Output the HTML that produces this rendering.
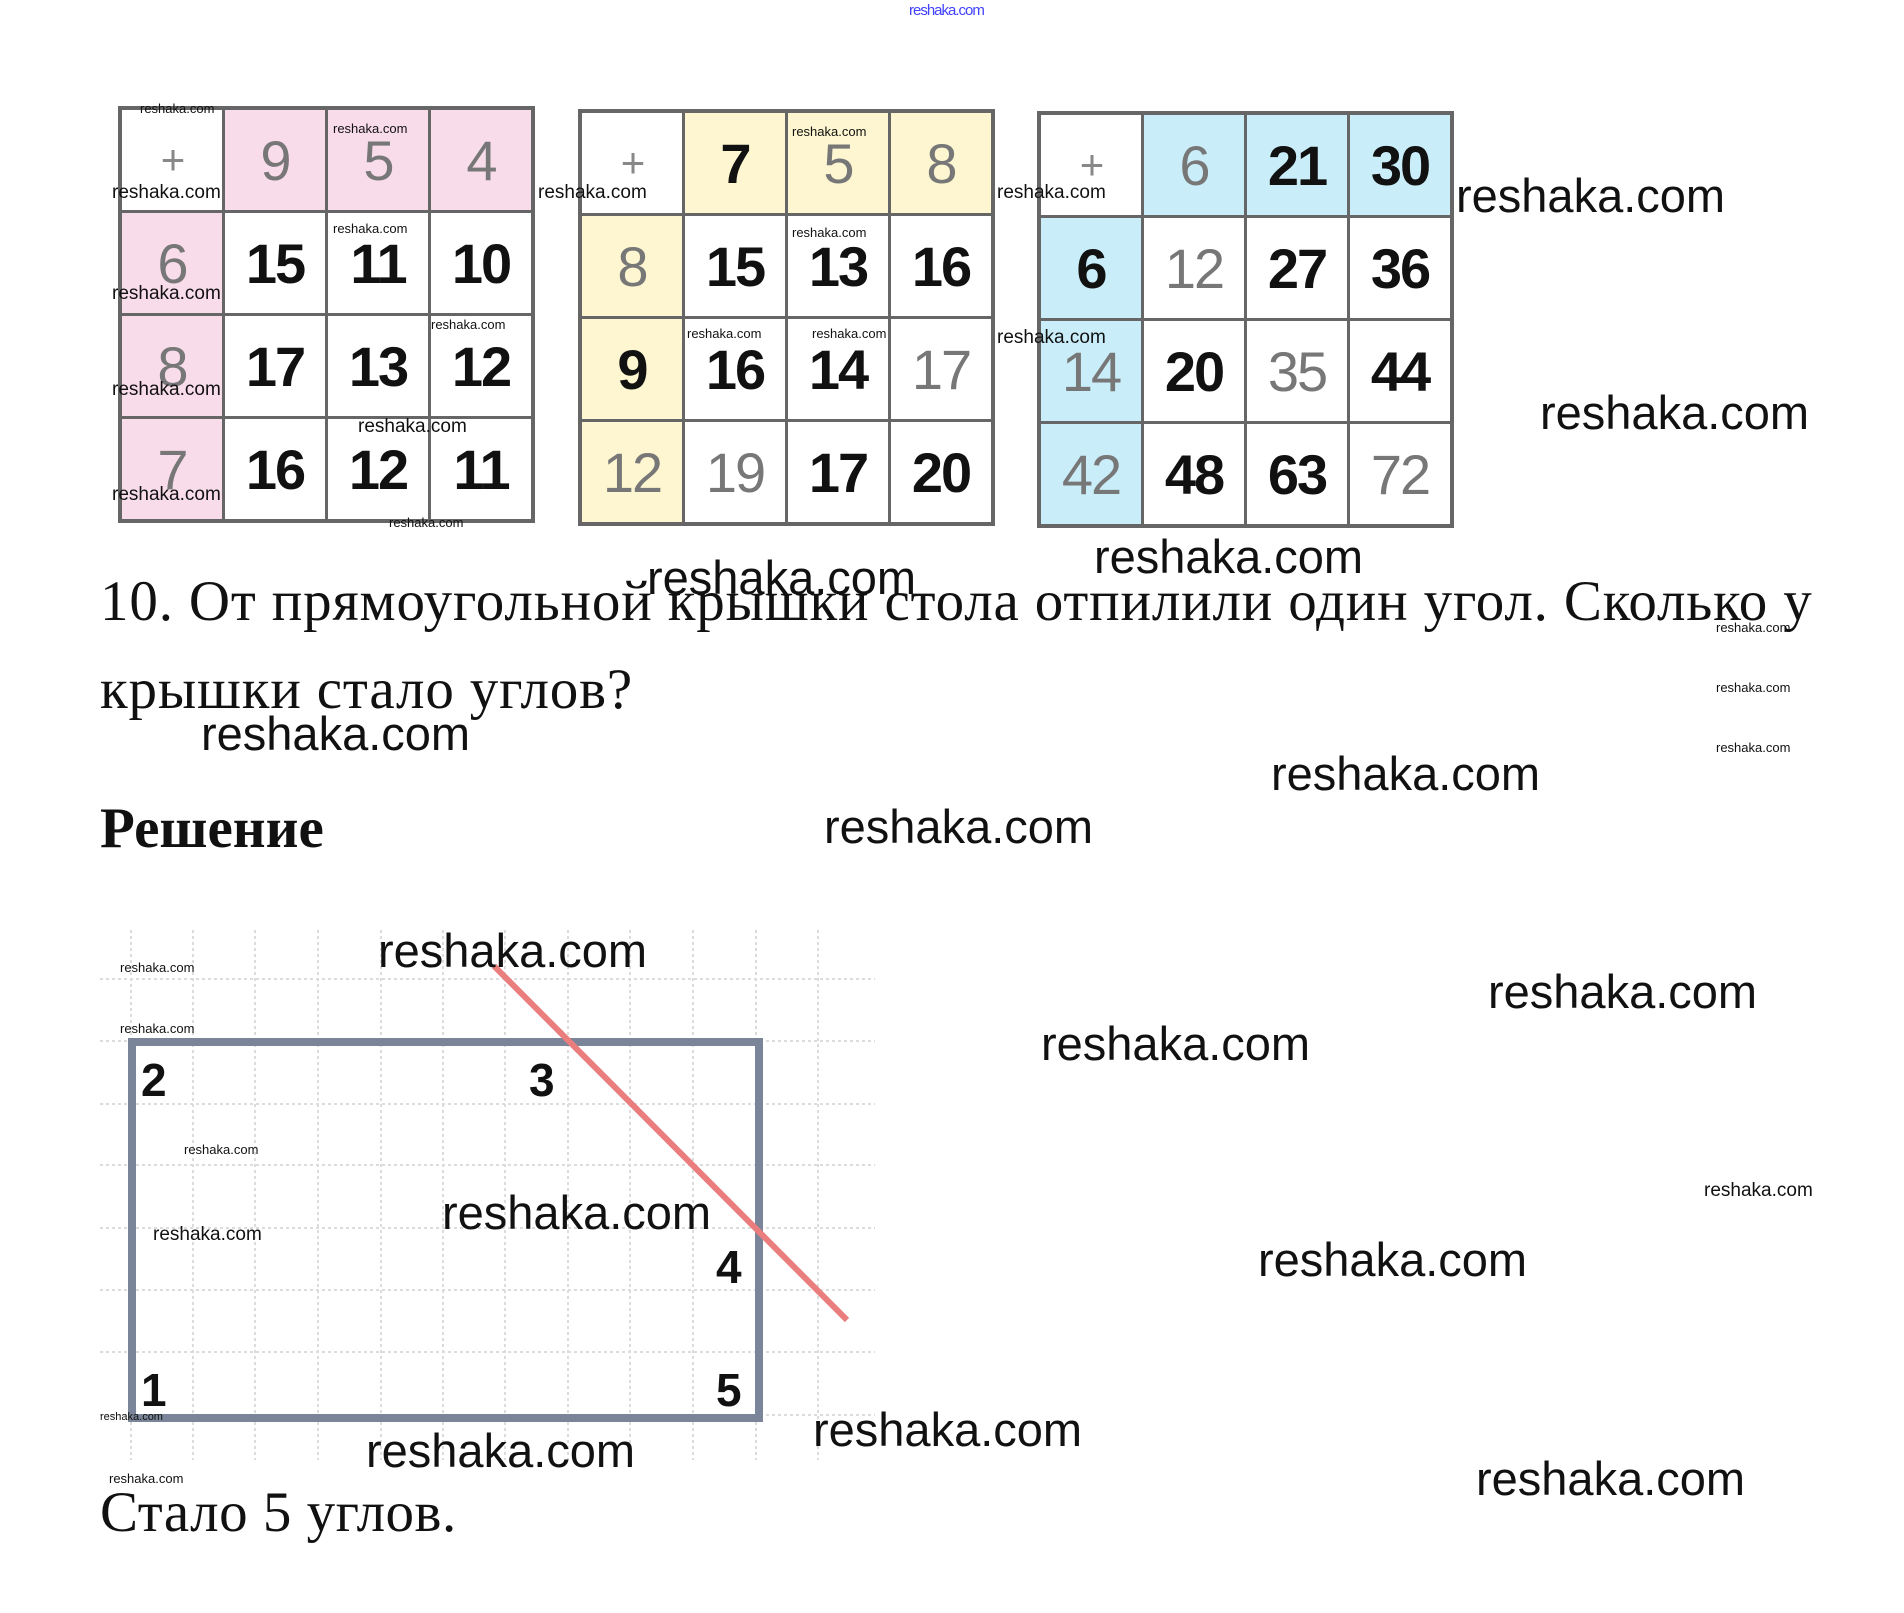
<!DOCTYPE html>
<html><head><meta charset="utf-8"><style>
body{margin:0;width:1904px;height:1613px;background:#fff;position:relative;overflow:hidden;font-family:"Liberation Sans",sans-serif}
.a{position:absolute;white-space:nowrap}
.tb{position:absolute;border:4px solid #666;display:grid;grid-template-columns:repeat(4,100px);grid-template-rows:repeat(4,100px);background:#666;gap:3px}
.tb div{background:#fff;display:flex;align-items:center;justify-content:center;font-weight:bold;font-size:56px;color:#111;letter-spacing:-2px}
.tb .g{color:#777;font-weight:normal}
.tb .p{color:#888;font-weight:normal;font-size:42px}
.w{position:absolute;white-space:nowrap;color:#111;line-height:1}
.L{font-size:47px}.M{font-size:19px}.S{font-size:13px}
.serif{font-family:"Liberation Serif","Noto Serif CJK SC",serif;color:#111}
</style></head><body>
<div class="a" style="left:909px;top:2px;font-size:15px;color:#4040ff;letter-spacing:-1px">reshaka.com</div>

<div class="tb" style="left:118px;top:106px">
<div class="p">+</div><div class="g" style="background:#f9dcea">9</div><div class="g" style="background:#f9dcea">5</div><div class="g" style="background:#f9dcea">4</div>
<div class="g" style="background:#f9dcea">6</div><div>15</div><div>11</div><div>10</div>
<div class="g" style="background:#f9dcea">8</div><div>17</div><div>13</div><div>12</div>
<div class="g" style="background:#f9dcea">7</div><div>16</div><div>12</div><div>11</div>
</div>
<div class="tb" style="left:578px;top:109px">
<div class="p">+</div><div style="background:#fdf6d0">7</div><div class="g" style="background:#fdf6d0">5</div><div class="g" style="background:#fdf6d0">8</div>
<div class="g" style="background:#fdf6d0">8</div><div>15</div><div>13</div><div>16</div>
<div style="background:#fdf6d0">9</div><div>16</div><div>14</div><div class="g">17</div>
<div class="g" style="background:#fdf6d0">12</div><div class="g">19</div><div>17</div><div>20</div>
</div>
<div class="tb" style="left:1037px;top:111px">
<div class="p">+</div><div class="g" style="background:#c9eef9">6</div><div style="background:#c9eef9">21</div><div style="background:#c9eef9">30</div>
<div style="background:#c9eef9">6</div><div class="g">12</div><div>27</div><div>36</div>
<div class="g" style="background:#c9eef9">14</div><div>20</div><div class="g">35</div><div>44</div>
<div class="g" style="background:#c9eef9">42</div><div>48</div><div>63</div><div class="g">72</div>
</div>

<div class="a serif" style="left:100px;top:573px;font-size:57px;line-height:1;letter-spacing:0.85px">10. От прямоугольной крышки стола отпилили один угол. Сколько у</div>
<div class="a serif" style="left:100px;top:661px;font-size:57px;line-height:1;letter-spacing:0.85px">крышки стало углов?</div>
<div class="a serif" style="left:100px;top:800px;font-size:57px;line-height:1;font-weight:bold">Решение</div>
<div class="a serif" style="left:100px;top:1484px;font-size:57px;line-height:1;letter-spacing:0.5px">Стало 5 углов.</div>

<svg class="a" style="left:0;top:0" width="1904" height="1613">
<g stroke="#dcdcdc" stroke-width="2" stroke-dasharray="3,3">
<line x1="131" y1="930" x2="131" y2="1460"/><line x1="193" y1="930" x2="193" y2="1460"/><line x1="255" y1="930" x2="255" y2="1460"/><line x1="318" y1="930" x2="318" y2="1460"/><line x1="381" y1="930" x2="381" y2="1460"/><line x1="443" y1="930" x2="443" y2="1460"/><line x1="505" y1="930" x2="505" y2="1460"/><line x1="568" y1="930" x2="568" y2="1460"/><line x1="630" y1="930" x2="630" y2="1460"/><line x1="693" y1="930" x2="693" y2="1460"/><line x1="756" y1="930" x2="756" y2="1460"/><line x1="818" y1="930" x2="818" y2="1460"/>
<line x1="100" y1="979" x2="875" y2="979"/><line x1="100" y1="1041" x2="875" y2="1041"/><line x1="100" y1="1104" x2="875" y2="1104"/><line x1="100" y1="1165" x2="875" y2="1165"/><line x1="100" y1="1228" x2="875" y2="1228"/><line x1="100" y1="1290" x2="875" y2="1290"/><line x1="100" y1="1352" x2="875" y2="1352"/><line x1="100" y1="1415" x2="875" y2="1415"/>
</g>
<rect x="132" y="1042" width="627" height="376" fill="none" stroke="#7a8599" stroke-width="8"/>
<line x1="494" y1="966" x2="847" y2="1320" stroke="#ea7d7d" stroke-width="6"/>
<g font-family="Liberation Sans" font-weight="bold" font-size="46" fill="#111">
<text x="141" y="1096">2</text><text x="529" y="1096">3</text><text x="716" y="1283">4</text><text x="141" y="1406">1</text><text x="716" y="1406">5</text>
</g>
</svg>

<div class="w L" style="left:1456px;top:172px">reshaka.com</div>
<div class="w L" style="left:1540px;top:389px">reshaka.com</div>
<div class="w L" style="left:1094px;top:533px">reshaka.com</div>
<div class="w L" style="left:647px;top:554px">reshaka.com</div>
<div class="w L" style="left:201px;top:710px">reshaka.com</div>
<div class="w L" style="left:1271px;top:750px">reshaka.com</div>
<div class="w L" style="left:824px;top:803px">reshaka.com</div>
<div class="w L" style="left:378px;top:927px">reshaka.com</div>
<div class="w L" style="left:1488px;top:968px">reshaka.com</div>
<div class="w L" style="left:1041px;top:1020px">reshaka.com</div>
<div class="w L" style="left:442px;top:1189px">reshaka.com</div>
<div class="w L" style="left:1258px;top:1236px">reshaka.com</div>
<div class="w L" style="left:813px;top:1406px">reshaka.com</div>
<div class="w L" style="left:366px;top:1427px">reshaka.com</div>
<div class="w L" style="left:1476px;top:1455px">reshaka.com</div>

<div class="w M" style="left:112px;top:183px">reshaka.com</div>
<div class="w M" style="left:538px;top:183px">reshaka.com</div>
<div class="w M" style="left:997px;top:183px">reshaka.com</div>
<div class="w M" style="left:112px;top:284px">reshaka.com</div>
<div class="w M" style="left:112px;top:380px">reshaka.com</div>
<div class="w M" style="left:112px;top:485px">reshaka.com</div>
<div class="w M" style="left:997px;top:328px">reshaka.com</div>
<div class="w M" style="left:358px;top:417px">reshaka.com</div>
<div class="w M" style="left:153px;top:1225px">reshaka.com</div>
<div class="w M" style="left:1704px;top:1181px">reshaka.com</div>

<div class="w S" style="left:140px;top:102px">reshaka.com</div>
<div class="w S" style="left:333px;top:122px">reshaka.com</div>
<div class="w S" style="left:333px;top:222px">reshaka.com</div>
<div class="w S" style="left:431px;top:318px">reshaka.com</div>
<div class="w S" style="left:389px;top:516px">reshaka.com</div>
<div class="w S" style="left:792px;top:125px">reshaka.com</div>
<div class="w S" style="left:792px;top:226px">reshaka.com</div>
<div class="w S" style="left:687px;top:327px">reshaka.com</div>
<div class="w S" style="left:812px;top:327px">reshaka.com</div>
<div class="w S" style="left:1716px;top:621px">reshaka.com</div>
<div class="w S" style="left:1716px;top:681px">reshaka.com</div>
<div class="w S" style="left:1716px;top:741px">reshaka.com</div>
<div class="w S" style="left:120px;top:961px">reshaka.com</div>
<div class="w S" style="left:120px;top:1022px">reshaka.com</div>
<div class="w S" style="left:184px;top:1143px">reshaka.com</div>
<div class="w S" style="left:100px;top:1412px;font-size:11px">reshaka.com</div>
<div class="w S" style="left:109px;top:1472px">reshaka.com</div>
</body></html>
